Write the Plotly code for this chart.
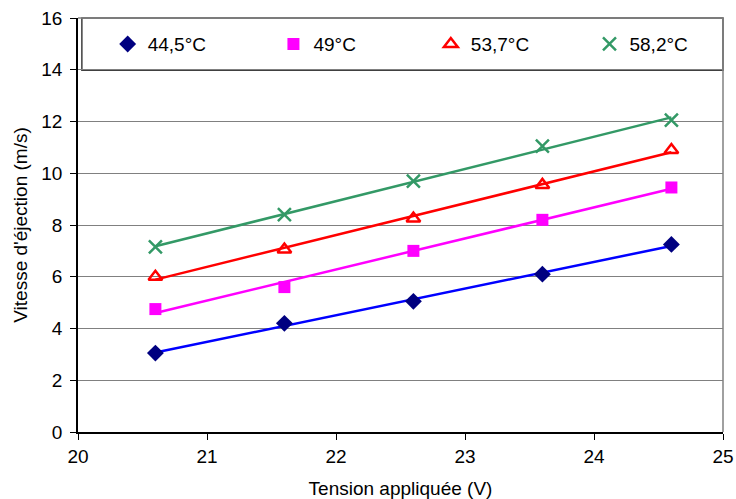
import numpy as np
import plotly.graph_objects as go

tension = [20.6, 21.6, 22.6, 23.6, 24.6]
v_445 = [3.05, 4.2, 5.05, 6.1, 7.25]
v_49 = [4.75, 5.6, 7.0, 8.2, 9.45]
v_537 = [6.0, 7.05, 8.25, 9.55, 10.9]
v_582 = [7.15, 8.4, 9.7, 11.05, 12.05]
labels = ["44,5°C", "49°C", "53,7°C", "58,2°C"]

styles = [
    (dict(symbol="diamond", color="#000080", size=13), "#0000FF"),
    (dict(symbol="square", color="#FF00FF", size=12), "#FF00FF"),
    (dict(symbol="triangle-up-open", color="#FF0000", size=12, line=dict(width=2.5, color="#FF0000")), "#FF0000"),
    (dict(symbol="x-thin-open", color="#339966", size=13, line=dict(width=2.5, color="#339966")), "#339966"),
]
values = [v_445, v_49, v_537, v_582]
legend_ids = ["legend", "legend2", "legend3", "legend4"]
legend_x = [0.046, 0.303, 0.547, 0.793]

FONT = "Liberation Sans, Arial"
FS = 19

fig = go.Figure()
x = np.array(tension)
for ys, (mk, lc) in zip(values, styles):
    a, b = np.polyfit(x, np.array(ys), 1)
    fig.add_trace(go.Scatter(x=tension, y=list(a * x + b), mode="lines",
                             line=dict(color=lc, width=2.5), showlegend=False, hoverinfo="skip"))
for name, ys, (mk, lc), lid in zip(labels, values, styles, legend_ids):
    fig.add_trace(go.Scatter(x=tension, y=ys, mode="markers", name=name, marker=mk,
                             legend=lid, showlegend=True))

legend_common = dict(orientation="h", y=0.937, xanchor="left", yanchor="middle",
                     bgcolor="rgba(0,0,0,0)", borderwidth=0,
                     font=dict(family=FONT, size=FS, color="black"), itemwidth=30)

fig.update_layout(
    width=736, height=499,
    margin=dict(l=78, r=13, t=18, b=67),
    paper_bgcolor="white", plot_bgcolor="white",
    font=dict(family=FONT, size=FS, color="black"),
    showlegend=True,
    legend=dict(x=legend_x[0], **legend_common),
    legend2=dict(x=legend_x[1], **legend_common),
    legend3=dict(x=legend_x[2], **legend_common),
    legend4=dict(x=legend_x[3], **legend_common),
    shapes=[dict(type="rect", xref="paper", yref="paper", x0=0.006, x1=1.0, y0=0.874, y1=1.0,
                 line=dict(color="#404040", width=1.5), fillcolor="white", layer="below")],
    xaxis=dict(range=[20, 25], dtick=1, showgrid=False, ticks="outside", ticklen=6,
               tickcolor="black", showline=True, linecolor="black", linewidth=1.5, mirror=False,
               title=dict(text="Tension appliquée (V)", standoff=16, font=dict(size=FS)),
               zeroline=False, tickfont=dict(size=FS), automargin=False,
               ticklabeloverflow="allow"),
    yaxis=dict(range=[0, 16], dtick=2, showgrid=True, gridcolor="#808080", gridwidth=1.2,
               ticks="outside", ticklen=6, tickcolor="black", showline=True, linecolor="black",
               linewidth=1.5, zeroline=False, ticklabelstandoff=4,
               title=dict(text="Vitesse d'éjection (m/s)", standoff=9, font=dict(size=FS)),
               tickfont=dict(size=FS), automargin=False, ticklabeloverflow="allow"),
)
fig.add_shape(type="line", xref="paper", yref="paper", x0=1, x1=1, y0=0, y1=1,
              line=dict(color="#808080", width=1.5))
fig.add_shape(type="line", xref="paper", yref="paper", x0=0, x1=1, y0=1, y1=1,
              line=dict(color="#808080", width=1.5))

fig.write_html("out.html", config={"displayModeBar": False},
               post_script="document.body.style.margin='0';document.body.style.overflow='hidden';")
